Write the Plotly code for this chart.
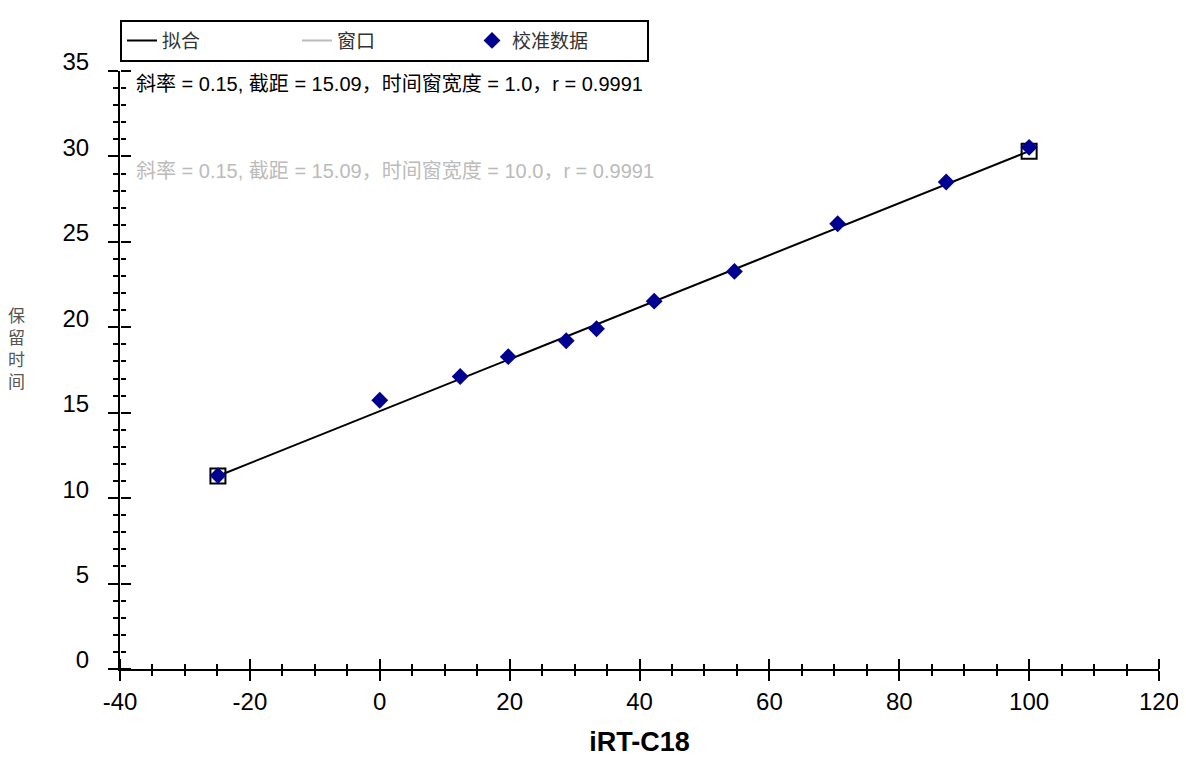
import numpy as np
import plotly.graph_objects as go

# ---- data ----
irt_values = [-24.92, 0.0, 12.39, 19.79, 28.71, 33.38, 42.26, 54.62, 70.52, 87.23, 100.0]
rt_values = [11.32, 15.73, 17.12, 18.28, 19.21, 19.91, 21.53, 23.27, 26.06, 28.50, 30.53]
fit_slope = 0.1522
fit_intercept = 15.09
legend_names = ["拟合", "窗口", "校准数据"]
info_lines = ["斜率 = 0.15, 截距 = 15.09，时间窗宽度 = 1.0，r = 0.9991",
              "斜率 = 0.15, 截距 = 15.09，时间窗宽度 = 10.0，r = 0.9991"]
x_title = "iRT-C18"
y_title = "保留时间"
x_ticks = [-40, -20, 0, 20, 40, 60, 80, 100, 120]
x_tick_labels = ["-40", "-20", "0", "20", "40", "60", "80", "100", "120"]
y_ticks = [0, 5, 10, 15, 20, 25, 30, 35]
y_tick_labels = ["0", "5", "10", "15", "20", "25", "30", "35"]

FONT = "Liberation Sans, Arial, Noto Sans CJK SC, sans-serif"

x_end = np.array([min(irt_values), max(irt_values)])
y_end = fit_intercept + fit_slope * x_end

fig = go.Figure()
fig.add_trace(go.Scatter(x=x_end, y=y_end, mode="lines", name=legend_names[0],
                         line=dict(color="black", width=2), legendrank=1))
# gray window line (legend entry only)
fig.add_trace(go.Scatter(x=[None], y=[None], mode="lines", name=legend_names[1],
                         line=dict(color="#BBBBBB", width=2), legendrank=2))
fig.add_trace(go.Scatter(x=x_end, y=y_end, mode="markers", showlegend=False,
                         marker=dict(symbol="square-open", size=15, color="black",
                                     line=dict(width=2, color="black"))))
fig.add_trace(go.Scatter(x=irt_values, y=rt_values, mode="markers", name=legend_names[2],
                         marker=dict(symbol="diamond", size=13, color="#000090",
                                     line=dict(width=0)), legendrank=3))
# invisible trace on the overlay axes (they give the inner half of the crossing ticks)
fig.add_trace(go.Scatter(x=x_end, y=y_end, xaxis="x2", yaxis="y2", mode="lines",
                         line=dict(width=0, color="rgba(0,0,0,0)"),
                         showlegend=False, hoverinfo="skip"))

common_x = dict(range=[-40, 120], tickvals=x_ticks, ticktext=x_tick_labels,
                showgrid=False, zeroline=False, type="linear", automargin=False,
                tickwidth=2, ticklen=10, tickcolor="black", ticks="outside",
                minor=dict(dtick=5, tick0=0, ticklen=5, tickwidth=1.5, tickcolor="black",
                           ticks="outside", showgrid=False))
common_y = dict(range=[0, 35], tickvals=y_ticks, ticktext=y_tick_labels,
                showgrid=False, zeroline=False, type="linear", automargin=False,
                tickwidth=2, ticklen=10, tickcolor="black", ticks="outside",
                minor=dict(dtick=1, tick0=0, ticklen=5, tickwidth=1.5, tickcolor="black",
                           ticks="outside", showgrid=False))

W, H = 1178, 749
fig.update_layout(
    width=W, height=H,
    margin=dict(l=112, r=27, t=57, b=88),
    paper_bgcolor="white", plot_bgcolor="white",
    font=dict(family=FONT, color="black"),
    xaxis=dict(**common_x, showline=True, linecolor="black", linewidth=2,
               anchor="y", side="bottom",
               tickfont=dict(size=24, color="black"), ticklabelstandoff=0,
               title=dict(text="<b>" + x_title + "</b>", font=dict(size=27), standoff=26)),
    xaxis2=dict(**common_x, overlaying="x", anchor="free", position=0, side="top",
                showticklabels=False, showline=False),
    yaxis=dict(**common_y, showline=True, linecolor="black", linewidth=2,
               anchor="x", side="left",
               tickfont=dict(size=24, color="black"), ticklabelstandoff=14,
               ticklabelshift=-9),
    yaxis2=dict(**common_y, overlaying="y", anchor="free", position=0, side="right",
                showticklabels=False, showline=False),
    legend=dict(orientation="h", x=0, xanchor="left", y=1.086, yanchor="top",
                bgcolor="white", bordercolor="black", borderwidth=2,
                font=dict(size=19, color="#333333"),
                entrywidth=130, entrywidthmode="pixels", traceorder="normal"),
    showlegend=True,
)

fig.add_annotation(text=info_lines[0], xref="paper", yref="paper", x=0.013, y=0.979,
                   xanchor="left", yanchor="middle", showarrow=False,
                   font=dict(size=20, color="black"))
fig.add_annotation(text=info_lines[1], xref="paper", yref="paper", x=0.013, y=0.833,
                   xanchor="left", yanchor="middle", showarrow=False,
                   font=dict(size=20, color="#BBBBBB"))
fig.add_annotation(text="<br>".join(list(y_title)), xref="paper", yref="paper",
                   x=-0.1, y=0.535, xanchor="center", yanchor="middle", showarrow=False,
                   font=dict(size=17, color="#555555"))

fig.write_html("out.html")
